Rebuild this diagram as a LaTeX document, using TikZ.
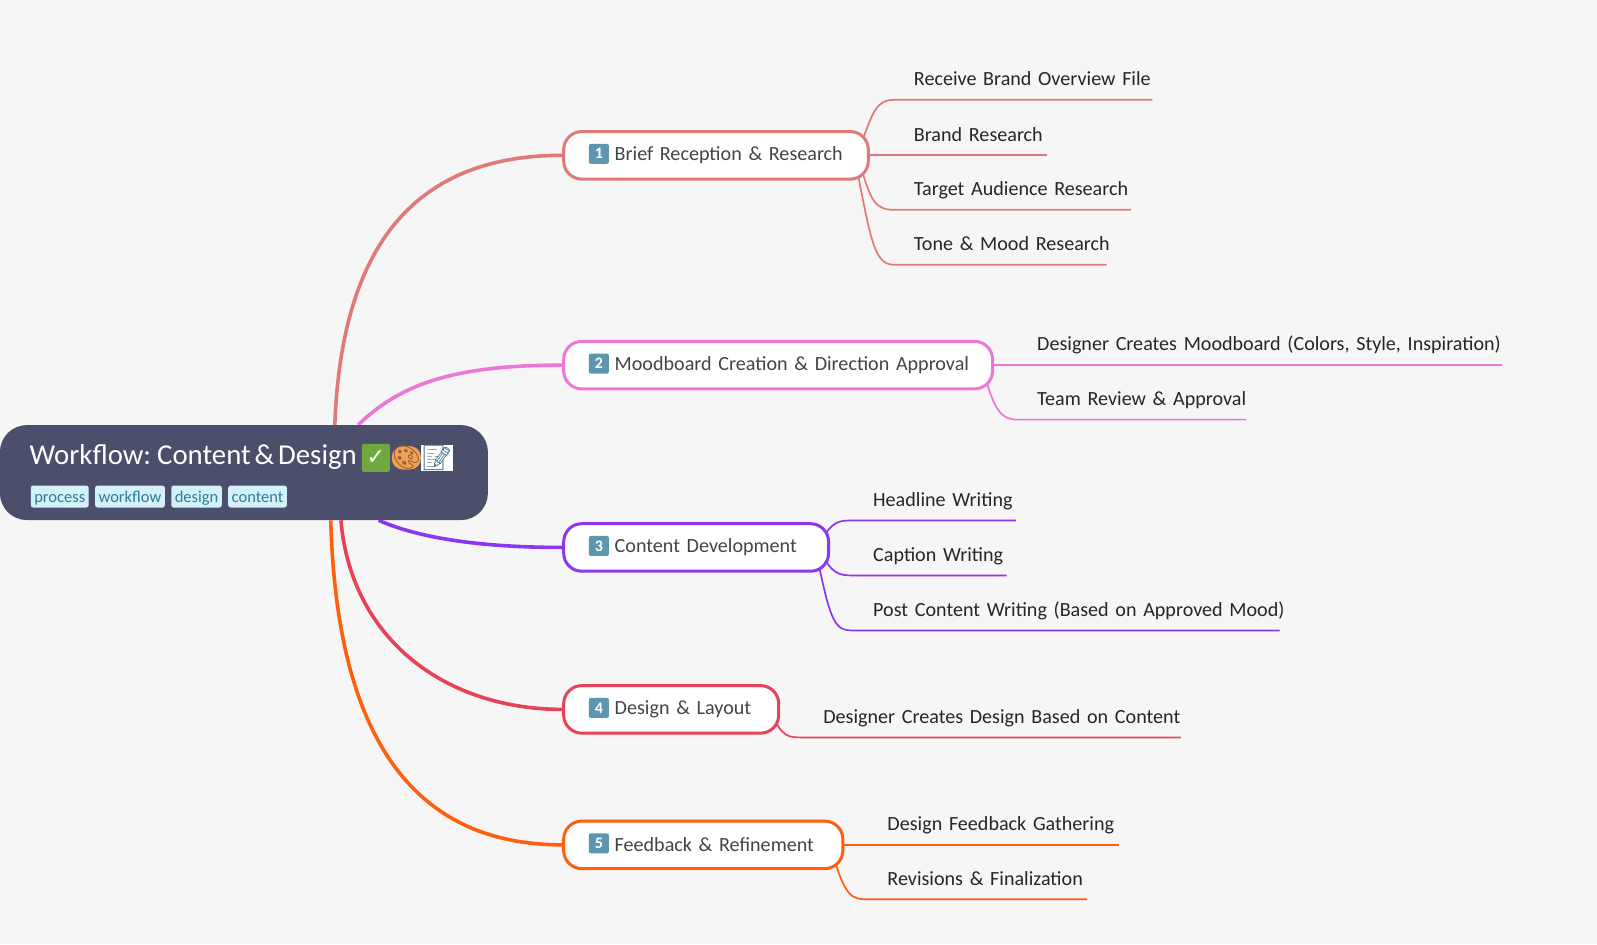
\documentclass[tikz,border=0pt]{standalone}
\usepackage{fontspec}
\setmainfont{Carlito}[WordSpace=0.6]
\newfontfamily\emojifont{Noto Emoji}
\newfontfamily\dejavu{DejaVu Sans}
\usetikzlibrary{positioning, calc}
\definecolor{bgcol}{HTML}{F6F6F6}
\definecolor{rootcol}{HTML}{4C4F6B}
\definecolor{tagfill}{HTML}{D4F1F9}
\definecolor{tagtext}{HTML}{2E7D96}
\definecolor{capcol}{HTML}{5E96B0}
\definecolor{labelcol}{HTML}{444444}
\definecolor{leafcol}{HTML}{262626}
\definecolor{checkcol}{HTML}{6FA83F}
\definecolor{palettecol}{HTML}{F0A056}
\definecolor{colA}{HTML}{E07A7A}
\definecolor{colB}{HTML}{EC77D6}
\definecolor{colC}{HTML}{8B37F0}
\definecolor{colD}{HTML}{E84258}
\definecolor{colE}{HTML}{FF6010}
\pgfdeclarelayer{back}
\pgfsetlayers{back,main}
\tikzset{
	rootbox/.style={fill=rootcol, rounded corners=27pt, minimum width=488pt, minimum height=95pt, inner sep=0pt},
	tagbox/.style={fill=tagfill, text=tagtext, rounded corners=2.5pt, font=\fontsize{16.5}{16.5}\selectfont, inner xsep=3.5pt, inner ysep=0pt, text height=13.5pt, text depth=2.5pt, minimum height=22pt},
	topicbox/.style={draw=#1, fill=white, line width=3pt, rounded corners=18pt, minimum height=47.5pt, inner sep=0pt, text=labelcol, align=left, font=\fontsize{20.1}{20.1}\selectfont},
	capbox/.style={fill=capcol, text=white, rounded corners=2pt, minimum size=20pt, inner sep=0pt, font=\fontsize{16}{16}\bfseries\selectfont},
	leafbox/.style={anchor=south west, inner xsep=0pt, inner ysep=2pt, text height=15pt, text depth=12pt, text=leafcol, align=left, font=\fontsize{20.1}{20.1}\selectfont},
	branch/.style={line width=3.6pt},
	twig/.style={line width=1.7pt}
}
\begin{document}
\begin{tikzpicture}[x=1.0185pt, y=-1.0185pt]
	\useasboundingbox (0,0) rectangle (1568,927);
	\begin{pgfonlayer}{back}
		\fill[bgcol] (0,0) rectangle (1568,927);
	\end{pgfonlayer}

	% root
	\node[rootbox] (root) at (239.5,464) {};
	\node[anchor=west, inner sep=0pt, text=white, font=\fontsize{28.8}{28.8}\selectfont] (title) at (29,448.5) {Workflow: Content \& Design};
	\node[fill=checkcol, text=white, rounded corners=2pt, minimum size=28pt, inner sep=0pt, font=\dejavu\bfseries\fontsize{22}{22}\selectfont] (check) at (369,449.5) {✓};
	\node[fill=palettecol, text=brown!70!black, rounded corners=11pt, inner sep=0pt, font=\emojifont\fontsize{23}{23}\selectfont] (palette) at (399,449.5) {🎨};
	\node[fill=white, text=cyan!50!black, inner sep=0pt, minimum width=22pt, minimum height=26pt, font=\emojifont\fontsize{25}{25}\selectfont] (memo) at (429,449.5) {📝};

	\node[tagbox, anchor=west] (tagA) at (30,487.5) {process};
	\node[tagbox, right=6pt of tagA] (tagB) {workflow};
	\node[tagbox, right=6pt of tagB] (tagC) {design};
	\node[tagbox, right=6pt of tagC] (tagD) {content};

	% topics
	\foreach \n/\c/\w/\y/\d/\txt in {
		A/colA/302/152.5/1/{Brief Reception \& Research},
		B/colB/424/358.5/2/{Moodboard Creation \& Direction Approval},
		C/colC/263/537.5/3/{Content Development},
		D/colD/214/696.5/4/{Design \& Layout},
		E/colE/277/829.5/5/{Feedback \& Refinement}}	{
		\pgfmathsetmacro\topicw{\w*1.0185-3}
		\node[topicbox=\c, anchor=west, text width=\topicw pt] (t\n) at (552,\y) {\hspace*{51pt}\mbox{\txt}};
		\node[capbox] (k\n) at (588,\y-1.5) {\d};
	}

	% leaves
	\foreach \n/\x/\y/\w/\txt in {
		Aa/878/98/253/{Receive Brand Overview File},
		Ab/878/152.5/150/{Brand Research},
		Ac/878/206/232/{Target Audience Research},
		Ad/878/260/208/{Tone \& Mood Research},
		Ba/999/358.5/475/{Designer Creates Moodboard (Colors, Style, Inspiration)},
		Bb/999/412/224/{Team Review \& Approval},
		Ca/838/511/159/{Headline Writing},
		Cb/838/565/150/{Caption Writing},
		Cc/838/619/418/{Post Content Writing (Based on Approved Mood)},
		Da/789/724/370/{Designer Creates Design Based on Content},
		Ea/852/829.5/246/{Design Feedback Gathering},
		Eb/852/883/215/{Revisions \& Finalization}}	{
		\pgfmathsetmacro\leafw{\w*1.0185}
		\node[leafbox, text width=\leafw pt] (l\n) at (\x,\y) {\hspace*{19.5pt}\mbox{\txt}};
	}

	\begin{pgfonlayer}{back}
		% main branches
		\draw[branch, colA] ($(root.north west)+(329,0)$) .. controls (335,250) and (400,152.5) .. (tA.west);
		\draw[branch, colB] ($(root.north west)+(352,0)$) .. controls (395,375) and (450,358.5) .. (tB.west);
		\draw[branch, colC] ($(root.south west)+(372,0)$) .. controls (415,530) and (480,537.5) .. (tC.west);
		\draw[branch, colD] ($(root.south west)+(335,0)$) .. controls (345,630) and (440,696.5) .. (tD.west);
		\draw[branch, colE] ($(root.south west)+(325,0)$) .. controls (330,700) and (390,829.5) .. (tE.west);

		% twigs
		\draw[twig, colA] ($(tA.east)+(-9,-10)$) .. controls +(12,-32) and +(-18,0) .. (lAa.south west) -- (lAa.south east);
		\draw[twig, colA] (tA.east) -- (lAb.south east);
		\draw[twig, colA] ($(tA.east)+(-9,10)$) .. controls +(10,36) and +(-18,0) .. (lAc.south west) -- (lAc.south east);
		\draw[twig, colA] ($(tA.east)+(-13,12)$) .. controls +(14,70) and +(-20,0) .. (lAd.south west) -- (lAd.south east);
		\draw[twig, colB] (tB.east) -- (lBa.south east);
		\draw[twig, colB] ($(tB.east)+(-10,6)$) .. controls +(10,40) and +(-15,0) .. (lBb.south west) -- (lBb.south east);
		\draw[twig, colC] ($(tC.east)+(-9,-7)$) .. controls +(12,-19) and +(-15,0) .. (lCa.south west) -- (lCa.south east);
		\draw[twig, colC] ($(tC.east)+(-9,6)$) .. controls +(12,20) and +(-15,0) .. (lCb.south west) -- (lCb.south east);
		\draw[twig, colC] ($(tC.east)+(-13,8)$) .. controls +(14,68) and +(-18,0) .. (lCc.south west) -- (lCc.south east);
		\draw[twig, colD] ($(tD.east)+(-8,4)$) .. controls +(10,24) and +(-15,0) .. (lDa.south west) -- (lDa.south east);
		\draw[twig, colE] (tE.east) -- (lEa.south east);
		\draw[twig, colE] ($(tE.east)+(-11,10)$) .. controls +(12,42) and +(-15,0) .. (lEb.south west) -- (lEb.south east);
	\end{pgfonlayer}
\end{tikzpicture}
\end{document}
